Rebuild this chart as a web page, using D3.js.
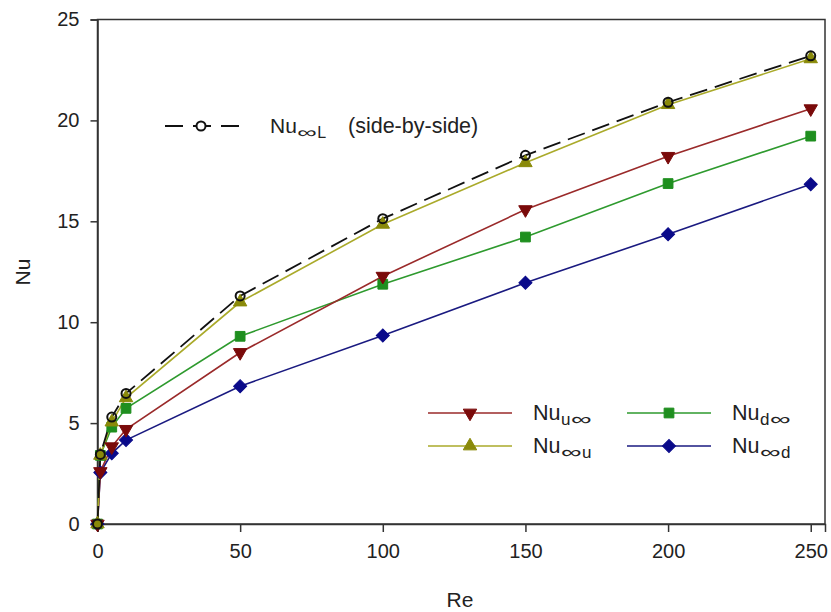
<!DOCTYPE html>
<html><head><meta charset="utf-8">
<script src="https://cdn.jsdelivr.net/npm/d3@7"></script>
<style>
body{margin:0;background:#fff;}
text{font-family:"Liberation Sans",Arial,sans-serif;fill:#222;}
</style></head>
<body>
<svg id="c" width="831" height="612"></svg>
<script>
const re = [0, 1, 5, 10, 50, 100, 150, 200, 250];
const nuInfL = [0, 3.45, 5.3, 6.47, 11.3, 15.13, 18.27, 20.9, 23.2];
const nuInfU = [0, 3.4, 5.05, 6.25, 11.0, 14.85, 17.9, 20.78, 23.05];
const nuUInf = [0, 2.6, 3.83, 4.69, 8.5, 12.28, 15.58, 18.22, 20.58];
const nuDInf = [0, 3.4, 4.8, 5.73, 9.3, 11.88, 14.22, 16.87, 19.22];
const nuInfD = [0, 2.55, 3.5, 4.16, 6.83, 9.34, 11.95, 14.36, 16.84];
const xTicks = [0, 50, 100, 150, 200, 250];
const yTicks = [0, 5, 10, 15, 20, 25];

const svg = d3.select("#c");
const x = d3.scaleLinear().domain([0, 255]).range([97.5, 825]);
const y = d3.scaleLinear().domain([0, 25]).range([524, 19.5]);

// frame
svg.append("rect").attr("x",97.5).attr("y",19.5).attr("width",825-97.5).attr("height",524-19.5)
  .attr("fill","none").attr("stroke","#333").attr("stroke-width",1.5);

const xAxis = svg.append("g").attr("transform","translate(0,524)")
  .call(d3.axisBottom(x).tickValues(xTicks).tickSize(8).tickPadding(12));
const yAxis = svg.append("g").attr("transform","translate(97.5,0)")
  .call(d3.axisLeft(y).tickValues(yTicks).tickSize(7).tickPadding(11));
[xAxis,yAxis].forEach(a=>{
  a.select(".domain").attr("stroke","#333").attr("stroke-width",1.5);
  a.selectAll(".tick line").attr("stroke","#333").attr("stroke-width",1.5);
  a.selectAll(".tick text").attr("font-size",20).attr("font-family","Liberation Sans, Arial, sans-serif").attr("fill","#222");
});

svg.append("text").attr("x",460).attr("y",607).attr("text-anchor","middle").attr("font-size",21).text("Re");
svg.append("text").attr("transform","translate(30,272) rotate(-90)").attr("text-anchor","middle").attr("font-size",21).text("Nu");

const series = [
  {vals:nuInfD, line:"#1a1a80", fill:"#0a0a8a", shape:d3.symbolSquare, size:85, rot:45},
  {vals:nuDInf, line:"#2e9a2e", fill:"#1f8f1f", shape:d3.symbolSquare, size:95, rot:0},
  {vals:nuUInf, line:"#9a2a2a", fill:"#7a0a0a", shape:d3.symbolTriangle, size:78, rot:180},
  {vals:nuInfU, line:"#aaaa2a", fill:"#8a8a0a", shape:d3.symbolTriangle, size:78, rot:0},
];
const line = d3.line().x((d,i)=>x(re[i])).y(d=>y(d));

series.forEach(s=>{
  svg.append("path").datum(s.vals).attr("d",line).attr("fill","none")
    .attr("stroke",s.line).attr("stroke-width",1.6);
});
// dashed L line
svg.append("path").datum(nuInfL).attr("d",line).attr("fill","none")
  .attr("stroke","#111").attr("stroke-width",1.8).attr("stroke-dasharray","18,8");

function drawSym(g, s, cx, cy){
  g.append("path").attr("d",d3.symbol().type(s.shape).size(s.size)())
    .attr("transform",`translate(${cx},${cy}) rotate(${s.rot})`)
    .attr("fill",s.fill).attr("stroke",s.fill).attr("stroke-width",1);
}
series.forEach(s=>{
  s.vals.forEach((v,i)=>drawSym(svg, s, x(re[i]), y(v)));
});
nuInfL.forEach((v,i)=>{
  svg.append("circle").attr("cx",x(re[i])).attr("cy",y(v)).attr("r",4.5)
    .attr("fill","none").attr("stroke","#111").attr("stroke-width",2);
});

function label(g, x0, y0, main, sub, size, subSize){
  const t = g.append("text").attr("x",x0).attr("y",y0).attr("font-size",size).text(main);
  let cx = x0 + t.node().getComputedTextLength() + 0.5;
  for (const ch of sub){
    const sx = ch === "∞" ? 1.7 : 1;
    const el = g.append("text").attr("font-size",subSize).text(ch)
      .attr("transform",`translate(${cx},${y0+5}) scale(${sx},1)`);
    cx += el.node().getComputedTextLength()*sx + 0.5;
  }
  return cx;
}

// legend 1
const lg1 = svg.append("g");
lg1.append("line").attr("x1",165).attr("x2",240).attr("y1",126).attr("y2",126)
  .attr("stroke","#111").attr("stroke-width",1.8).attr("stroke-dasharray","18,10");
lg1.append("circle").attr("cx",201).attr("cy",126).attr("r",4.5).attr("fill","#fff").attr("stroke","#111").attr("stroke-width",2);
label(lg1, 270, 133, "Nu", "∞L", 21, 16);
lg1.append("text").attr("x",348).attr("y",133).attr("font-size",21.5).text("(side-by-side)");

// legend 2
const leg = [
  {s:series[2], x0:428, yy:413, main:"Nu", sub:"u∞"},
  {s:series[3], x0:428, yy:446, main:"Nu", sub:"∞u"},
  {s:series[1], x0:627, yy:413, main:"Nu", sub:"d∞"},
  {s:series[0], x0:627, yy:446, main:"Nu", sub:"∞d"},
];
leg.forEach(l=>{
  svg.append("line").attr("x1",l.x0).attr("x2",l.x0+84).attr("y1",l.yy).attr("y2",l.yy)
    .attr("stroke",l.s.line).attr("stroke-width",1.6);
  drawSym(svg, l.s, l.x0+42, l.yy);
  label(svg, l.x0+105, l.yy+7, l.main, l.sub, 21.5, 17);
});
</script>
</body></html>
